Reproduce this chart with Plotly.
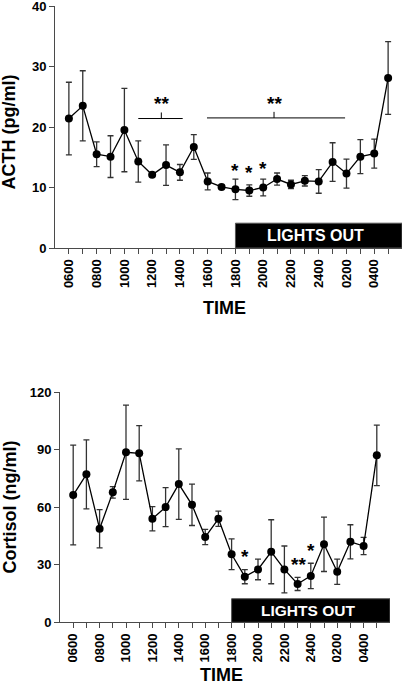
import plotly.graph_objects as go

# ---------------- data ----------------
times = ["0600", "0700", "0800", "0900", "1000", "1100", "1200", "1300", "1400",
         "1500", "1600", "1700", "1800", "1900", "2000", "2100", "2200", "2300",
         "2400", "0100", "0200", "0300", "0400", "0500"]
tick_labels = [t if i % 2 == 0 else "" for i, t in enumerate(times)]

acth = [21.4, 23.5, 15.5, 15.1, 19.5, 14.3, 12.1, 13.7, 12.5, 16.7, 11.0, 10.1,
        9.7, 9.5, 10.0, 11.4, 10.5, 11.1, 11.0, 14.2, 12.3, 15.1, 15.6, 28.1]
acth_err = [6.0, 5.8, 2.05, 3.45, 6.9, 3.4, 0.3, 3.35, 1.3, 2.05, 1.4, 0.3,
            1.7, 0.95, 1.4, 1.0, 0.7, 0.85, 1.95, 3.2, 2.4, 2.8, 2.4, 6.0]

cortisol = [66.4, 77.2, 48.8, 67.8, 88.7, 88.2, 54.0, 60.1, 72.1, 61.3, 44.5, 54.0,
            35.5, 23.8, 27.6, 36.8, 27.6, 20.0, 24.2, 40.7, 26.4, 42.0, 39.8, 87.1]
cortisol_err = [26.0, 18.0, 10.0, 3.0, 24.6, 14.4, 6.3, 10.2, 18.4, 10.8, 4.0, 4.0,
                8.0, 3.7, 5.4, 16.7, 12.2, 3.4, 6.6, 14.2, 6.6, 8.9, 4.5, 15.8]

# significance marks: (x position in hour index, y value, text)
acth_stars = [(6.66, 24.6, "**"), (14.78, 24.6, "**"),
              (12, 13.4, "*"), (13, 13.1, "*"), (14, 13.8, "*")]
# brackets: (start index, end index, centre index, y value, tick top)
acth_brackets = [(5.0, 8.2, 6.66, 21.4, 22.4), (9.95, 19.9, 14.78, 21.5, 22.5)]
cortisol_stars = [(13.0, 36.5, "*"), (17.1, 32.0, "**"), (18.0, 39.8, "*")]

lights_out_start = 12  # "1800"
x_range = [-1, 24]
acth_range = [0, 40]
cortisol_range = [0, 120]
acth_bar_top = 4.1
cortisol_bar_top = 12.3

# ---------------- figure ----------------
W, H = 404, 684
FONT = "Liberation Sans, Arial, sans-serif"
AX = "#4a4a4a"

fig = go.Figure()

def add_series(y, err, xa, ya):
    fig.add_trace(go.Scatter(
        x=times, y=y, xaxis=xa, yaxis=ya, mode="lines+markers",
        line=dict(color="black", width=1.3),
        marker=dict(color="black", size=8),
        error_y=dict(type="data", array=err, visible=True, color="#333333",
                     thickness=1.3, width=3),
        showlegend=False, cliponaxis=False))

add_series(acth, acth_err, "x", "y")
add_series(cortisol, cortisol_err, "x2", "y2")

def px_x(p):
    return p / W

def px_y(p):
    return 1 - p / H

axis_common = dict(showline=True, linecolor=AX, linewidth=1, ticks="outside",
                   tickcolor=AX, ticklen=5, tickwidth=1, showgrid=False,
                   zeroline=False, automargin=False, ticklabeloverflow="allow",
                   tickfont=dict(family=FONT, size=13, color="black", weight="bold"))

fig.update_layout(
    width=W, height=H, margin=dict(l=0, r=0, t=0, b=0, autoexpand=False),
    paper_bgcolor="white", plot_bgcolor="white",
    xaxis=dict(domain=[px_x(55), px_x(402)], anchor="y", type="category",
               range=x_range, tickmode="array", tickvals=times, ticktext=tick_labels,
               tickangle=-90, **axis_common),
    yaxis=dict(domain=[px_y(248), px_y(6)], anchor="x", range=acth_range,
               tickvals=[0, 10, 20, 30, 40], **axis_common),
    xaxis2=dict(domain=[px_x(60), px_x(390)], anchor="y2", type="category",
                range=x_range, tickmode="array", tickvals=times, ticktext=tick_labels,
                tickangle=-90, **axis_common),
    yaxis2=dict(domain=[px_y(622.3), px_y(392.3)], anchor="x2", range=cortisol_range,
                tickvals=[0, 30, 60, 90, 120], **axis_common),
)

shapes = []
annotations = []

# lights out bars
for xa, ya, top, fs in [("x", "y", acth_bar_top, 16), ("x2", "y2", cortisol_bar_top, 15.5)]:
    shapes.append(dict(type="rect", xref=xa, yref=ya, x0=lights_out_start, x1=x_range[1],
                       y0=0, y1=top, fillcolor="black", line=dict(color="#555555", width=1),
                       layer="above"))
    annotations.append(dict(xref=xa, yref=ya, x=(lights_out_start + x_range[1]) / 2 - 0.2,
                            y=top / 2, text="LIGHTS OUT", showarrow=False,
                            font=dict(family=FONT, size=fs, color="white", weight="bold"),
                            xanchor="center", yanchor="middle"))

# brackets
for x0, x1, xc, yv, yt in acth_brackets:
    shapes.append(dict(type="line", xref="x", yref="y", x0=x0, x1=x1, y0=yv, y1=yv,
                       line=dict(color="black", width=1)))
    shapes.append(dict(type="line", xref="x", yref="y", x0=xc, x1=xc, y0=yv, y1=yt,
                       line=dict(color="black", width=1)))

# stars
for stars, xa, ya in [(acth_stars, "x", "y"), (cortisol_stars, "x2", "y2")]:
    for xs, ys, txt in stars:
        annotations.append(dict(xref=xa, yref=ya, x=xs, y=ys, text=txt, showarrow=False,
                                font=dict(family=FONT, size=19, color="black", weight="bold"),
                                xanchor="center", yanchor="middle", yshift=-4))

# axis titles
title_font = dict(family=FONT, size=18, color="black", weight="bold")
annotations += [
    dict(xref="paper", yref="paper", x=px_x(9), y=px_y(132.5), text="ACTH (pg/ml)",
         textangle=-90, showarrow=False, font=title_font, xanchor="center", yanchor="middle"),
    dict(xref="paper", yref="paper", x=px_x(9), y=px_y(507.5), text="Cortisol (ng/ml)",
         textangle=-90, showarrow=False, font=title_font, xanchor="center", yanchor="middle"),
    dict(xref="paper", yref="paper", x=px_x(224), y=px_y(308.3), text="TIME",
         showarrow=False, font=title_font, xanchor="center", yanchor="middle"),
    dict(xref="paper", yref="paper", x=px_x(221), y=px_y(674.5), text="TIME",
         showarrow=False, font=title_font, xanchor="center", yanchor="middle"),
]

fig.update_layout(shapes=shapes, annotations=annotations)
fig.write_html("out.html", config={"displayModeBar": False},
               post_script="document.body.style.margin='0';document.body.style.overflow='hidden';")
